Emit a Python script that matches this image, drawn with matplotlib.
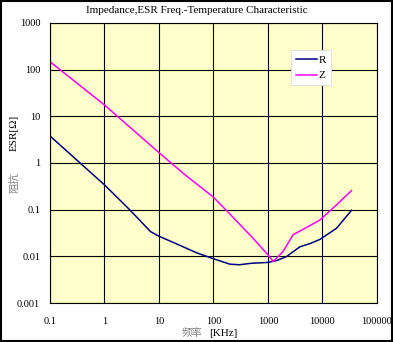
import matplotlib
matplotlib.use("Agg")
from matplotlib import pyplot as plt
from matplotlib.patches import Rectangle

# 阻抗 Z (magenta)
z_freq = [0.1, 1, 10, 30, 100, 175, 500, 1000, 1250, 1900, 2900, 4450, 9000, 18200, 34300]
z_val = [148, 17.5, 1.67, 0.56, 0.185, 0.095, 0.0265, 0.0108, 0.0078, 0.0127, 0.029, 0.038, 0.06, 0.127, 0.256]

# ESR R (navy)
r_freq = [0.1, 1, 2.9, 7, 10, 20, 50, 100, 200, 300, 500, 1000, 1440, 2200, 3860, 5890, 9000, 18200, 34300]
r_val = [3.8, 0.34, 0.1, 0.034, 0.027, 0.019, 0.0118, 0.0089, 0.0068, 0.0066, 0.0071, 0.0074, 0.0081, 0.0099, 0.016, 0.0187, 0.023, 0.040, 0.097]

x_ticks = [0.1, 1, 10, 100, 1000, 10000, 100000]
x_labels = ["0.1", "1", "10", "100", "1000", "10000", "100000"]
y_ticks = [0.001, 0.01, 0.1, 1, 10, 100, 1000]
y_labels = ["0.001", "0.01", "0.1", "1", "10", "100", "1000"]

serif = "Liberation Serif"
cjk = "Noto Sans CJK SC"

fig = plt.figure(figsize=(3.93, 3.42), dpi=100)
ax = fig.add_axes([0.127, 0.114, 0.832, 0.819])
ax.set_facecolor("#FFFFCC")

ax.plot(r_freq, r_val, color="#000080", lw=1.1, label="R")
ax.plot(z_freq, z_val, color="#FF00FF", lw=1.1, label="Z")

ax.set_xscale("log")
ax.set_yscale("log")
ax.set_xlim(0.1, 100000)
ax.set_ylim(0.001, 1000)
ax.set_xticks(x_ticks)
ax.set_xticklabels(x_labels, fontfamily=serif, fontsize=7.5)
ax.set_yticks(y_ticks)
ax.set_yticklabels(y_labels, fontfamily=serif, fontsize=7.5)
ax.minorticks_off()
ax.tick_params(axis="x", length=0, pad=10)
ax.tick_params(axis="y", length=0, pad=7)
ax.grid(True, color="black", lw=0.8)
for s in ax.spines.values():
    s.set_color("black")
    s.set_linewidth(0.8)

leg = ax.legend(loc="upper left", bbox_to_anchor=(0.736, 0.904), borderaxespad=0,
                frameon=True, fancybox=False, edgecolor="#DDDDDD", facecolor="white",
                framealpha=1, handlelength=1.9, handletextpad=0.2, borderpad=0.45,
                labelspacing=0.55, prop={"family": serif, "size": 8})
leg.get_frame().set_linewidth(0.6)

fig.text(0.5, 0.968, "Impedance,ESR Freq.-Temperature Characteristic",
         ha="center", va="center", fontfamily=serif, fontsize=8)

# y 轴标题
fig.text(0.035, 1 - 133 / 342, "ESR[Ω]", rotation=90, ha="center", va="center",
         fontfamily=serif, fontsize=8)
fig.text(0.035, 1 - 183 / 342, "阻抗", rotation=90, ha="center", va="center",
         fontfamily=cjk, fontsize=7.5, color="#808080")
# x 轴标题
fig.text(192 / 393, 1 - 333 / 342, "频率", ha="center", va="center",
         fontfamily=cjk, fontsize=7.5, color="#808080")
fig.text(223 / 393, 1 - 333 / 342, "[KHz]", ha="center", va="center",
         fontfamily=serif, fontsize=8)

fig.patches.append(Rectangle((0.002, 0.003), 0.995, 0.994, transform=fig.transFigure,
                             fill=False, edgecolor="black", lw=1.5))

fig.savefig("out.png", dpi=100)
